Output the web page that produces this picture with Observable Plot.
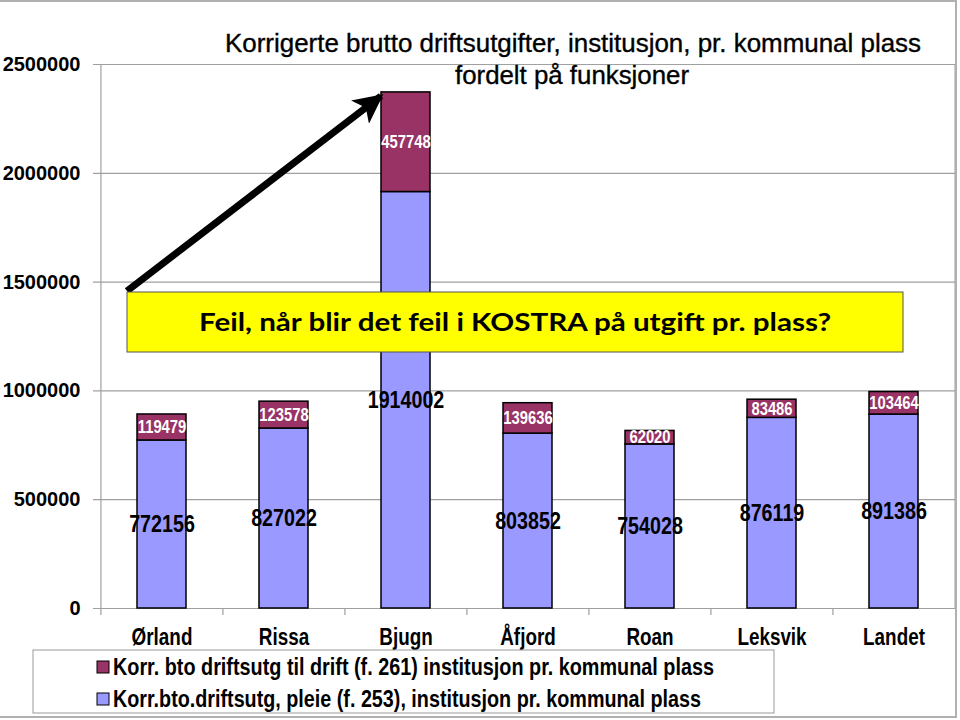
<!DOCTYPE html>
<html>
<head>
<meta charset="utf-8">
<script src="https://cdn.jsdelivr.net/npm/d3@7"></script>
<script src="https://cdn.jsdelivr.net/npm/@observablehq/plot@0.6"></script>
<style>
  html, body { margin: 0; padding: 0; background: #fff; }
  #wrap { position: relative; width: 960px; height: 720px; overflow: hidden; background: #fff; }
  #wrap svg { position: absolute; left: 0; top: 0; }
</style>
</head>
<body>
<div id="wrap"></div>
<script>
const categories = ["Ørland", "Rissa", "Bjugn", "Åfjord", "Roan", "Leksvik", "Landet"];
const pleie = [772156, 827022, 1914002, 803852, 754028, 876119, 891386];
const drift = [119479, 123578, 457748, 139636, 62020, 83486, 103464];
const seriesDrift = "Korr. bto driftsutg til drift (f. 261) institusjon pr. kommunal plass";
const seriesPleie = "Korr.bto.driftsutg, pleie (f. 253), institusjon pr. kommunal plass";
const yTicks = [0, 500000, 1000000, 1500000, 2000000, 2500000];
const titleLines = ["Korrigerte brutto driftsutgifter, institusjon, pr. kommunal plass", "fordelt på funksjoner"];
const noteText = "Feil, når blir det feil i KOSTRA på utgift pr. plass?";

const colors = {[seriesPleie]: "#9999FF", [seriesDrift]: "#993366"};
const rows = [
  ...categories.map((c, i) => ({cat: c, series: seriesPleie, value: pleie[i]})),
  ...categories.map((c, i) => ({cat: c, series: seriesDrift, value: drift[i]}))
];

const W = 960, H = 720;
const mL = 100, mR = 5, mT = 64, mB = 112;
const step = (W - mL - mR) / categories.length;
const sans = '"Liberation Sans", Arial, sans-serif';
const order = [seriesPleie, seriesDrift];

const chart = Plot.plot({
  width: W, height: H,
  marginLeft: mL, marginRight: mR, marginTop: mT, marginBottom: mB,
  style: {fontFamily: sans, background: "transparent", overflow: "visible"},
  x: {domain: categories, paddingInner: 0.6, paddingOuter: 0.3, align: 0.5},
  y: {domain: [0, 2500000]},
  color: {domain: order, range: [colors[seriesPleie], colors[seriesDrift]]},
  marks: [
    Plot.ruleY(yTicks, {stroke: "#a0a0a0", strokeWidth: 1.2, insetLeft: -7}),
    Plot.ruleX([categories[0]], {stroke: "#a0a0a0", strokeWidth: 1.2, dx: -step / 2, y1: 0, y2: 2500000}),
    Plot.ruleX(categories, {stroke: "#a0a0a0", strokeWidth: 1.2, dx: -step / 2, y1: 0, y2: 0, insetBottom: -7}),
    Plot.ruleX([categories[categories.length - 1]], {stroke: "#a0a0a0", strokeWidth: 1.2, dx: step / 2, y1: 0, y2: 2500000}),
    Plot.axisY({ticks: yTicks, tickSize: 0, tickPadding: 20, tickFormat: d => String(d), fontSize: 20, fontWeight: "bold", fill: "#000", label: null}),
    Plot.axisX({tickSize: 0, tickPadding: 20, fontSize: 23, fontWeight: "bold", fill: "#000", label: null, className: "narrow"}),
    Plot.barY(rows, Plot.stackY({x: "cat", y: "value", z: "series", fill: "series", stroke: "#000", strokeWidth: 1.5, order})),
    Plot.text(rows, Plot.stackY({x: "cat", y: "value", z: "series", order, text: d => d.series === seriesPleie ? String(d.value) : "", fontSize: 24, fontWeight: "bold", fill: "#000", className: "narrow"})),
    Plot.text(rows, Plot.stackY({x: "cat", y: "value", z: "series", order, text: d => d.series === seriesDrift ? String(d.value) : "", fontSize: 18, fontWeight: "bold", fill: "#fff", className: "narrow"}))
  ]
});

const wrap = document.getElementById("wrap");
wrap.appendChild(chart);

// overlay: title, annotation arrow, note box, legend, outer border
const ns = "http://www.w3.org/2000/svg";
const ov = d3.create("svg").attr("width", W).attr("height", H).attr("xmlns", ns).attr("font-family", sans);
ov.append("rect").attr("x", -2).attr("y", 1).attr("width", 958).attr("height", 716)
  .attr("fill", "none").attr("stroke", "#b0b0b0").attr("stroke-width", 2);

const tg = ov.append("g").attr("font-size", 25).attr("text-anchor", "middle").attr("fill", "#000")
  .attr("stroke", "#000").attr("stroke-width", 0.35);
tg.append("text").attr("x", 573).attr("y", 52).attr("textLength", 696).attr("lengthAdjust", "spacingAndGlyphs").text(titleLines[0]);
tg.append("text").attr("x", 572).attr("y", 84).attr("textLength", 234).attr("lengthAdjust", "spacingAndGlyphs").text(titleLines[1]);

// arrow
ov.append("defs").append("marker").attr("id", "ah").attr("viewBox", "0 0 10 10")
  .attr("refX", 9).attr("refY", 5).attr("markerWidth", 4.2).attr("markerHeight", 4.2)
  .attr("orient", "auto").attr("markerUnits", "strokeWidth")
  .append("path").attr("d", "M0,0 L10,5 L0,10 L2.5,5 Z").attr("fill", "#000");
ov.append("line").attr("x1", 127).attr("y1", 291).attr("x2", 381).attr("y2", 96)
  .attr("stroke", "#000").attr("stroke-width", 7).attr("marker-end", "url(#ah)");

// note box
ov.append("rect").attr("x", 127).attr("y", 292).attr("width", 776).attr("height", 60)
  .attr("fill", "#FFFF00").attr("stroke", "#555").attr("stroke-width", 1);
ov.append("text").attr("x", 515).attr("y", 331).attr("text-anchor", "middle")
  .attr("font-family", "Lato, 'Open Sans', sans-serif").attr("font-weight", "bold").attr("font-size", 25)
  .attr("textLength", 632).attr("lengthAdjust", "spacingAndGlyphs")
  .text(noteText);

// legend
const lg = ov.append("g");
lg.append("rect").attr("x", 33).attr("y", 650).attr("width", 741).attr("height", 63)
  .attr("fill", "#fff").attr("stroke", "#999").attr("stroke-width", 1);
[[seriesDrift, 667, 601], [seriesPleie, 699, 588]].forEach(([s, cy, len]) => {
  lg.append("rect").attr("x", 97).attr("y", cy - 6).attr("width", 12).attr("height", 12)
    .attr("fill", colors[s]).attr("stroke", "#000").attr("stroke-width", 1);
  lg.append("text").attr("x", 113).attr("y", cy + 7.5)
    .attr("font-weight", "bold").attr("font-size", 23).attr("fill", "#000")
    .attr("textLength", len).attr("lengthAdjust", "spacingAndGlyphs").text(s);
});

wrap.appendChild(ov.node());

// condense the chart's narrow texts (Arial Narrow look)
chart.querySelectorAll(".narrow text").forEach(t => {
  const len = t.getComputedTextLength();
  if (len > 0) {
    t.setAttribute("textLength", (len * 0.82).toFixed(1));
    t.setAttribute("lengthAdjust", "spacingAndGlyphs");
  }
});
</script>
</body>
</html>
